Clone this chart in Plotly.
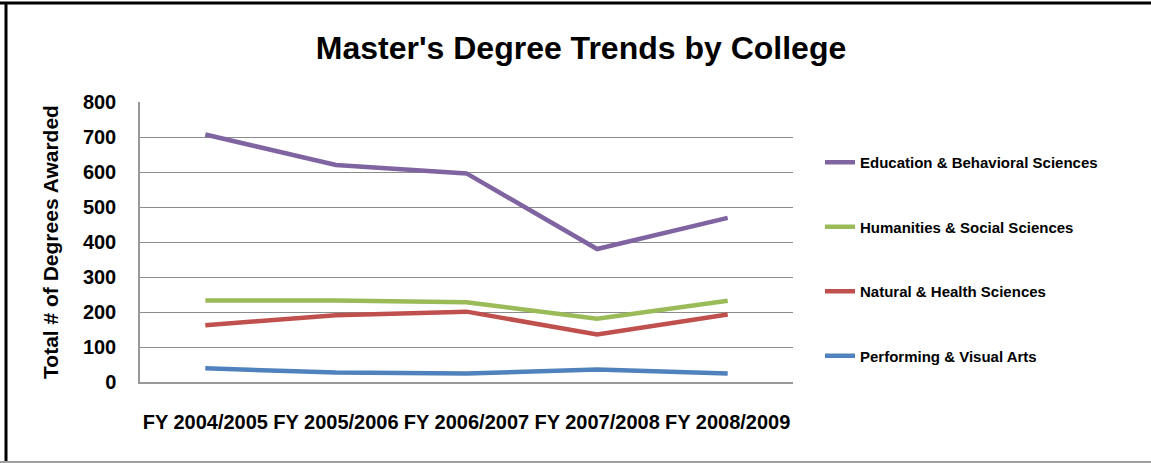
import plotly.graph_objects as go

years = ["FY 2004/2005", "FY 2005/2006", "FY 2006/2007", "FY 2007/2008", "FY 2008/2009"]

education = [707, 620, 596, 380, 469]
humanities = [233, 233, 228, 181, 232]
natural = [162, 191, 201, 136, 193]
performing = [39, 27, 24, 36, 24]

series = [
	("Education & Behavioral Sciences", education, "#8064A2"),
	("Humanities & Social Sciences", humanities, "#9BBB59"),
	("Natural & Health Sciences", natural, "#C0504D"),
	("Performing & Visual Arts", performing, "#4F81BD"),
]

FONT = "Liberation Sans, Arial, sans-serif"
W, H = 1151, 463
L, R, T, B = 140, 358, 102, 81

figure = go.Figure()

for i, (name, values, color) in enumerate(series):
	figure.add_trace(go.Scatter(
		mode = "lines",
		x = years,
		y = values,
		name = name,
		legendgroup = str(i),
		line = dict(color = color, width = 4.5),
	))

pw = W - L - R
ph = H - T - B

def px_x(x):
	return (x - L) / pw

def px_y(y):
	return (H - B - y) / ph

# outer frame of the original picture
figure.add_shape(type = "line", xref = "paper", yref = "paper",
	x0 = px_x(0), x1 = px_x(W), y0 = px_y(3), y1 = px_y(3),
	line = dict(color = "black", width = 3))
figure.add_shape(type = "line", xref = "paper", yref = "paper",
	x0 = px_x(6), x1 = px_x(6), y0 = px_y(2), y1 = px_y(H),
	line = dict(color = "black", width = 3))
figure.add_shape(type = "line", xref = "paper", yref = "paper",
	x0 = px_x(0), x1 = px_x(W), y0 = px_y(462), y1 = px_y(462),
	line = dict(color = "#a0a0a0", width = 2))

figure.update_layout(
	width = W,
	height = H,
	margin = dict(l = L, r = R, t = T, b = B),
	paper_bgcolor = "white",
	plot_bgcolor = "white",
	font = dict(family = FONT, color = "black"),
	title = dict(
		text = "<b>Master's Degree Trends by College</b>",
		font = dict(size = 32, family = FONT),
		x = 581 / W, xanchor = "center",
		y = 1 - 48 / H, yanchor = "middle",
	),
	xaxis = dict(
		type = "category",
		range = [-0.5, 4.5],
		automargin = False,
		showgrid = False,
		showline = True,
		linecolor = "#999999",
		linewidth = 1.5,
		ticks = "",
		tickangle = 0,
		tickfont = dict(size = 20, family = FONT, weight = "bold"),
		ticklabelstandoff = 21,
	),
	yaxis = dict(
		range = [0, 800],
		dtick = 100,
		automargin = False,
		showgrid = True,
		gridcolor = "#8c8c8c",
		gridwidth = 1,
		showline = True,
		linecolor = "#999999",
		linewidth = 1.5,
		zeroline = False,
		ticks = "",
		tickfont = dict(size = 20, family = FONT, weight = "bold"),
		ticklabelstandoff = 18,
		title = dict(
			text = "<b>Total # of Degrees Awarded</b>",
			font = dict(size = 21, family = FONT),
			standoff = 19,
		),
	),
	legend = dict(
		x = px_x(820), xanchor = "left",
		y = px_y(146), yanchor = "top",
		font = dict(size = 15, family = FONT, weight = "bold"),
		tracegroupgap = 42,
		maxheight = 400,
		bgcolor = "rgba(0,0,0,0)",
	),
	showlegend = True,
)

# drop the page's default body margin so the figure sits at the window corner
figure.write_html(
	"out.html",
	config = {"displayModeBar": False},
	post_script = "document.body.style.margin = '0';",
)
